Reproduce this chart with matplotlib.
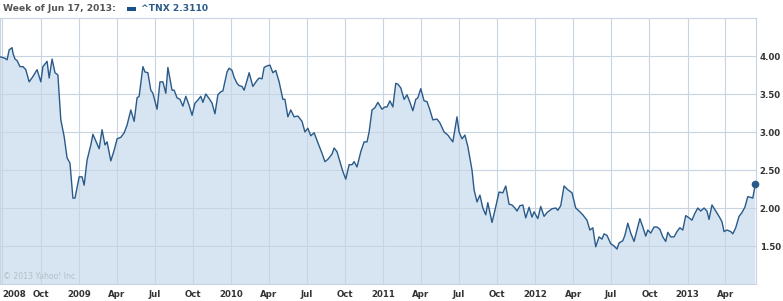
import numpy as np
import matplotlib
matplotlib.use("Agg")
import matplotlib.pyplot as plt
from matplotlib.patches import Rectangle

# ^TNX weekly values, dates as days after 2008-06-25
days = [0, 12, 17, 22, 29, 31, 36, 41, 48, 55, 62, 70, 79, 89, 98, 103, 113, 118, 125, 132,
        139, 146, 154, 161, 168, 175, 180, 190, 197, 202, 209, 218, 223, 230, 238, 245, 252, 257, 266, 274,
        281, 290, 298, 305, 314, 322, 329, 334, 343, 348, 355, 362, 367, 377, 384, 391, 398, 403, 413, 418,
        425, 432, 439, 446, 454, 461, 468, 475, 482, 487, 494, 502, 509, 516, 523, 530, 535, 545, 550, 557,
        562, 569, 574, 581, 586, 593, 598, 607, 617, 622, 629, 634, 641, 648, 655, 662, 670, 679, 684, 691,
        698, 706, 715, 725, 732, 739, 746, 754, 763, 773, 780, 787, 797, 802, 809, 816, 823, 830, 838, 845,
        850, 857, 866, 874, 881, 886, 893, 900, 907, 917, 924, 929, 936, 943, 950, 955, 962, 970, 977, 984,
        991, 998, 1003, 1010, 1018, 1025, 1032, 1039, 1049, 1056, 1066, 1075, 1087, 1097, 1102, 1109, 1116, 1123, 1133, 1138,
        1145, 1152, 1159, 1166, 1171, 1181, 1188, 1198, 1207, 1214, 1222, 1229, 1236, 1241, 1248, 1255, 1262, 1270, 1277, 1282,
        1291, 1298, 1306, 1313, 1320, 1325, 1334, 1339, 1346, 1354, 1363, 1373, 1382, 1392, 1399, 1409, 1416, 1423, 1430, 1438,
        1445, 1450, 1457, 1466, 1474, 1481, 1486, 1495, 1500, 1507, 1514, 1522, 1529, 1536, 1543, 1550, 1555, 1562, 1570, 1577,
        1584, 1591, 1598, 1603, 1610, 1618, 1625, 1632, 1639, 1646, 1654, 1661, 1668, 1675, 1682, 1690, 1697, 1702, 1709, 1718,
        1726, 1733, 1738, 1745, 1754, 1759, 1766, 1774, 1781, 1788, 1795, 1802, 1807, 1813]
yields = [3.99, 3.97, 3.95, 4.08, 4.11, 4.04, 3.96, 3.94, 3.86, 3.86, 3.82, 3.66, 3.73, 3.82, 3.66, 3.86, 3.93, 3.71, 3.96, 3.78,
          3.75, 3.16, 2.94, 2.66, 2.59, 2.13, 2.13, 2.41, 2.41, 2.30, 2.63, 2.83, 2.97, 2.88, 2.78, 3.03, 2.83, 2.87, 2.62, 2.76,
          2.91, 2.93, 2.99, 3.09, 3.29, 3.14, 3.45, 3.47, 3.86, 3.79, 3.78, 3.55, 3.51, 3.30, 3.66, 3.66, 3.51, 3.85, 3.55, 3.55,
          3.45, 3.43, 3.34, 3.47, 3.35, 3.22, 3.38, 3.42, 3.47, 3.39, 3.50, 3.44, 3.38, 3.24, 3.49, 3.53, 3.54, 3.79, 3.84, 3.81,
          3.72, 3.64, 3.61, 3.60, 3.55, 3.68, 3.78, 3.60, 3.68, 3.71, 3.70, 3.85, 3.87, 3.88, 3.78, 3.81, 3.66, 3.43, 3.43, 3.20,
          3.29, 3.20, 3.21, 3.14, 3.00, 3.05, 2.95, 2.99, 2.86, 2.72, 2.61, 2.64, 2.71, 2.79, 2.74, 2.61, 2.48, 2.38, 2.57, 2.57,
          2.61, 2.54, 2.74, 2.87, 2.87, 3.00, 3.29, 3.32, 3.39, 3.30, 3.33, 3.33, 3.41, 3.33, 3.64, 3.63, 3.58, 3.43, 3.49, 3.39,
          3.28, 3.43, 3.45, 3.57, 3.41, 3.40, 3.29, 3.16, 3.17, 3.12, 3.00, 2.96, 2.87, 3.20, 3.00, 2.91, 2.96, 2.81, 2.50, 2.24,
          2.08, 2.17, 2.00, 1.91, 2.07, 1.81, 1.97, 2.21, 2.20, 2.29, 2.05, 2.04, 2.00, 1.96, 2.03, 2.04, 1.87, 2.01, 1.88, 1.95,
          1.86, 2.02, 1.89, 1.94, 1.97, 1.99, 2.00, 1.97, 2.03, 2.29, 2.24, 2.20, 2.00, 1.95, 1.91, 1.84, 1.71, 1.74, 1.49, 1.62,
          1.59, 1.66, 1.64, 1.53, 1.50, 1.46, 1.54, 1.57, 1.64, 1.80, 1.67, 1.56, 1.71, 1.86, 1.75, 1.63, 1.71, 1.67, 1.75, 1.75,
          1.72, 1.62, 1.56, 1.68, 1.62, 1.62, 1.69, 1.74, 1.71, 1.90, 1.87, 1.84, 1.93, 2.00, 1.96, 2.00, 1.96, 1.85, 2.04, 1.96,
          1.89, 1.82, 1.69, 1.71, 1.69, 1.66, 1.74, 1.89, 1.94, 2.01, 2.15, 2.14, 2.13, 2.311]

tick_dates = ["2008-07-01", "2008-10-01", "2009-01-01", "2009-04-01", "2009-07-01", "2009-10-01",
              "2010-01-01", "2010-04-01", "2010-07-01", "2010-10-01", "2011-01-01", "2011-04-01",
              "2011-07-01", "2011-10-01", "2012-01-01", "2012-04-01", "2012-07-01", "2012-10-01",
              "2013-01-01", "2013-04-01"]
tick_labels = ["2008", "Oct", "2009", "Apr", "Jul", "Oct", "2010", "Apr", "Jul", "Oct",
               "2011", "Apr", "Jul", "Oct", "2012", "Apr", "Jul", "Oct", "2013", "Apr"]
y_ticks = [1.5, 2.0, 2.5, 3.0, 3.5, 4.0]

line_c = "#2a5a8a"
fill_c = "#d6e5f1"
grid_c = "#c8d5e0"
text_c = "#333333"

start = np.datetime64("2008-06-25")
dates = start + np.array(days, dtype="timedelta64[D]")

W, H = 783, 301
fig = plt.figure(figsize=(W / 100, H / 100), dpi=100)
ax = fig.add_axes([0, 1 - 284 / H, 755.7 / W, 266 / H])

ax.fill_between(dates, yields, 0, color=fill_c, lw=0, zorder=1)
ax.plot(dates, yields, color=line_c, lw=1.0, zorder=3)
ax.plot(dates[-1:], yields[-1:], "o", color=line_c, ms=4.5, zorder=4, clip_on=False)

ax.set_xlim(start, start + np.timedelta64(1814, "D"))
ax.set_ylim(1.0, 4.5)

ax.set_xticks(np.array(tick_dates, dtype="datetime64[D]"))
ax.set_xticklabels(tick_labels)
ax.get_xticklabels()[0].set_ha("left")
ax.set_yticks(y_ticks)
ax.set_yticklabels(["%.2f" % v for v in y_ticks])
ax.yaxis.tick_right()
ax.tick_params(length=0, labelsize=6.2, labelcolor=text_c)
ax.tick_params(axis="x", pad=4)
ax.tick_params(axis="y", pad=3)
for lab in ax.get_xticklabels() + ax.get_yticklabels():
    lab.set_fontweight("bold")

ax.set_axisbelow(False)
ax.grid(True, color=grid_c, lw=0.8, zorder=2)
for s in ax.spines.values():
    s.set_color(grid_c)
    s.set_linewidth(0.8)

ax.text(3 / 755.7, 0.028, "\u00a9 2013 Yahoo! Inc.", transform=ax.transAxes,
        fontsize=5.6, color="#b3bfc9", va="center", ha="left", zorder=2)

# header line
fig.text(3 / W, 1 - 8.5 / H, "Week of Jun 17, 2013:", fontsize=6.6, fontweight="bold",
         color="#555555", va="center", ha="left")
fig.add_artist(Rectangle((127 / W, 1 - 10.5 / H), 9 / W, 4 / H, transform=fig.transFigure,
                         color="#1d4f8b", lw=0))
fig.text(141 / W, 1 - 8.5 / H, "^TNX 2.3110", fontsize=6.6, fontweight="bold",
         color="#2a5a8a", va="center", ha="left")

fig.savefig("out.png", dpi=100)
